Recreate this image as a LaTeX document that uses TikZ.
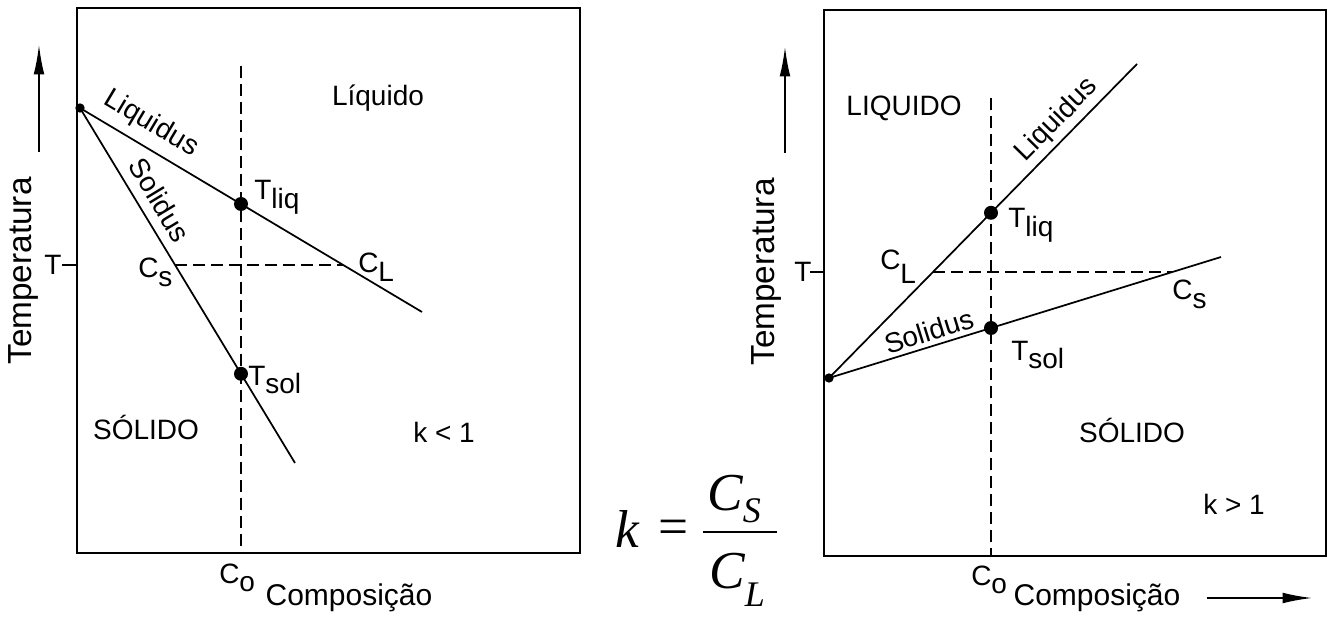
\documentclass[tikz,border=0pt]{standalone}
\usepackage{fontspec}
\setmainfont{Liberation Sans}
\newfontfamily\tnr{Liberation Serif}
\usetikzlibrary{arrows.meta}
\newcommand{\lsub}[1]{\raisebox{-0.32em}{#1}}
\newcommand{\dsub}[1]{\raisebox{-0.5em}{#1}}
\begin{document}
\begin{tikzpicture}[x=0.75pt,y=-0.75pt,
  lbl/.style={font=\fontsize{21}{24}\selectfont, inner sep=0pt},
  axlbl/.style={font=\fontsize{22.5}{26}\selectfont, inner sep=0pt},
  templbl/.style={font=\fontsize{25}{28}\selectfont, inner sep=0pt, rotate=90},
  fml/.style={font=\fontsize{40}{44}\selectfont\tnr, inner sep=0pt},
  curve/.style={line width=1.3pt},
  guide/.style={line width=1.2pt, dash pattern=on 9pt off 4.5pt},
  frame/.style={line width=1.5pt},
  bigdot/.style={circle, fill, inner sep=0pt, minimum size=10.5pt},
  smalldot/.style={circle, fill, inner sep=0pt, minimum size=7pt},
  axarrow/.style={line width=1.2pt, -{Latex[length=22pt,width=8pt]}},
]
\useasboundingbox (0,0) rectangle (1332,620);

% ---------------- left panel (k<1)
\draw[frame] (77,8) rectangle (580,553);
\node[smalldot] (L0) at (80,108) {};
\coordinate (LliqEnd) at (422,312);
\coordinate (LsolEnd) at (295,463);
\coordinate (LvTop) at (241,66);
\coordinate (LvBot) at (241,553);
\coordinate (LhS) at (175,265);
\coordinate (LhL) at (343,265);
\coordinate (LtickA) at (62,265);
\coordinate (LtickB) at (77,265);
\draw[guide] (LvTop) -- (LvBot);
\draw[guide] (LhS) -- (LhL);
\draw[curve] (L0.center) -- (LliqEnd);
\draw[curve] (L0.center) -- (LsolEnd);
\draw[curve] (LtickA) -- (LtickB);
\node[bigdot] (LTliqdot) at (241,204) {};
\node[bigdot] (LTsoldot) at (241,373.8) {};

\node[lbl] (Lliquido) at (378,98) {Líquido};
\node[lbl, rotate=-30.8] (Lliqlbl) at (151,124) {Liquidus};
\node[lbl, rotate=-58.8] (Lsollbl) at (160,200) {Solidus};
\node[lbl, anchor=base west] (LTliq) at (254,200) {T\lsub{liq}};
\node[lbl, anchor=base west] (LTsol) at (248,385) {T\lsub{sol}};
\node[lbl, anchor=base west] (LCS) at (138,278) {C\lsub{s}};
\node[lbl, anchor=base west] (LCL) at (358,273) {C\lsub{L}};
\node[lbl] (LT) at (53,265) {T};
\node[lbl] (Lsolido) at (146,427) {SÓLIDO};
\node[lbl] (Lk) at (444,432) {k < 1};
\node[lbl, anchor=base west] (LCo) at (219,583) {C\lsub{o}};
\node[axlbl] (Lcomp) at (349,598) {Composição};
\node[templbl] (Ltemp) at (23,271) {Temperatura};
\coordinate (LarrA) at (39,152);
\coordinate (LarrB) at (39,45);
\draw[axarrow] (LarrA) -- (LarrB);

% ---------------- formula
\node[fml, anchor=base west] (fk) at (615,547) {\itshape k};
\node[fml] (feq) at (674,532) {=};
\node[fml, anchor=base west] (fnum) at (707,510) {\itshape C\raisebox{-9pt}{\fontsize{27}{30}\selectfont S}};
\node[fml, anchor=base west] (fden) at (709,588) {\itshape C\raisebox{-14pt}{\fontsize{27}{30}\selectfont L}};
\coordinate (barA) at (703,532);
\coordinate (barB) at (777,532);
\draw[line width=1.9pt] (barA) -- (barB);

% ---------------- right panel (k>1)
\draw[frame] (824,10) rectangle (1326,556);
\node[smalldot] (R0) at (829,378) {};
\coordinate (RliqEnd) at (1137,64);
\coordinate (RsolEnd) at (1221,257);
\coordinate (RvTop) at (991,98);
\coordinate (RvBot) at (991,556);
\coordinate (RhL) at (933,272);
\coordinate (RhS) at (1172,272);
\coordinate (RtickA) at (810,272);
\coordinate (RtickB) at (824,272);
\draw[guide] (RvTop) -- (RvBot);
\draw[guide] (RhL) -- (RhS);
\draw[curve] (R0.center) -- (RliqEnd);
\draw[curve] (R0.center) -- (RsolEnd);
\draw[curve] (RtickA) -- (RtickB);
\node[bigdot] (RTliqdot) at (991,212.8) {};
\node[bigdot] (RTsoldot) at (991,328) {};

\node[lbl] (Rliquido) at (904,108) {LIQUIDO};
\node[lbl, rotate=45.5] (Rliqlbl) at (1057,120) {Liquidus};
\node[lbl, rotate=17.2] (Rsollbl) at (929,331) {Solidus};
\node[lbl, anchor=base west] (RTliq) at (1008,228) {T\lsub{liq}};
\node[lbl, anchor=base west] (RTsol) at (1011,360) {T\lsub{sol}};
\node[lbl, anchor=base west] (RCL) at (880,270) {C\dsub{L}};
\node[lbl, anchor=base west] (RCS) at (1172,300) {C\lsub{s}};
\node[lbl] (RT) at (803,272) {T};
\node[lbl] (Rsolido) at (1132,430) {SÓLIDO};
\node[lbl] (Rk) at (1234,504) {k > 1};
\node[lbl, anchor=base west] (RCo) at (971,585) {C\lsub{o}};
\node[axlbl] (Rcomp) at (1097,598) {Composição};
\node[templbl] (Rtemp) at (766,272) {Temperatura};
\coordinate (RarrA) at (785,153);
\coordinate (RarrB) at (785,47);
\draw[axarrow] (RarrA) -- (RarrB);
\coordinate (RcompA) at (1207,598);
\coordinate (RcompB) at (1312,598);
\draw[axarrow] (RcompA) -- (RcompB);
\end{tikzpicture}
\end{document}
